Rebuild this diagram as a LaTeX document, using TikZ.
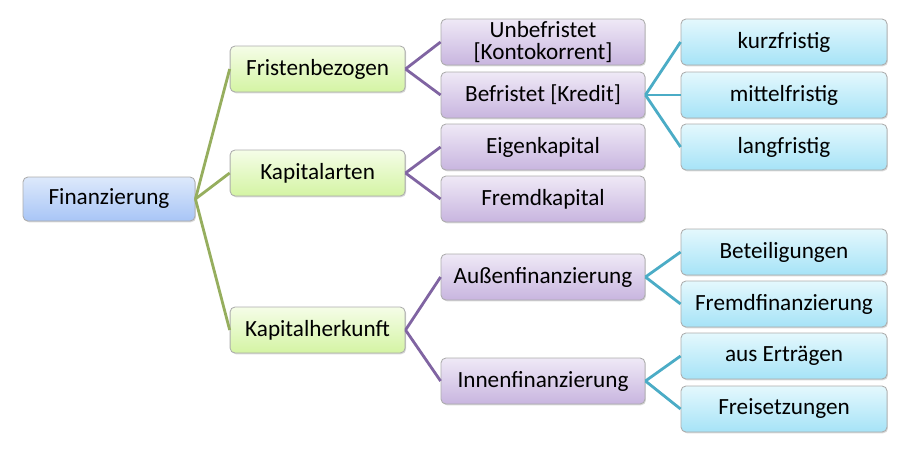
\documentclass[tikz,border=0pt]{standalone}
\usepackage{fontspec}
\setmainfont{Carlito}
\usetikzlibrary{shadows}

\definecolor{rootTop}{HTML}{DDE9FB}
\definecolor{rootBot}{HTML}{A8C5F6}
\definecolor{grnTop}{HTML}{F5FDE8}
\definecolor{grnBot}{HTML}{D4F4A3}
\definecolor{purTop}{HTML}{EFE9F6}
\definecolor{purBot}{HTML}{C8B5DF}
\definecolor{cyaTop}{HTML}{E4F8FD}
\definecolor{cyaBot}{HTML}{A6E3F7}
\definecolor{grnLine}{HTML}{96AE5E}
\definecolor{purLine}{HTML}{8064A2}
\definecolor{cyaLine}{HTML}{4BACC6}

\begin{document}
\begin{tikzpicture}[font=\fontsize{16.5}{19}\selectfont,
  box/.style={draw=gray!65, line width=0.6pt, rounded corners=3.5pt, align=center,
    inner sep=0pt, minimum height=1.15cm,
    drop shadow={opacity=0.3, shadow xshift=0.7pt, shadow yshift=-0.9pt}},
  rootbox/.style={box, top color=rootTop, bottom color=rootBot, minimum width=4.3cm, minimum height=1.1cm},
  lvlone/.style={box, top color=grnTop, bottom color=grnBot, minimum width=4.375cm},
  lvltwo/.style={box, top color=purTop, bottom color=purBot, minimum width=5.1cm},
  lvlthree/.style={box, top color=cyaTop, bottom color=cyaBot, minimum width=5.15cm},
  link/.style={line width=2pt}]
  \useasboundingbox (0,0) rectangle (22.575,-11.2);

  % root
  \node[rootbox] (fin) at (2.725,-4.975) {Finanzierung};

  % first level
  \node[lvlone] (frist) at (7.94,-1.725) {Fristenbezogen};
  \node[lvlone] (arten) at (7.94,-4.325) {Kapitalarten};
  \node[lvlone] (herk)  at (7.94,-8.25)  {Kapitalherkunft};

  % second level
  \node[lvltwo] (unbef) at (13.575,-1.05) {Unbefristet\\[-3pt][Kontokorrent]};
  \node[lvltwo] (bef)   at (13.575,-2.375) {Befristet [Kredit]};
  \node[lvltwo] (eigen) at (13.575,-3.675) {Eigenkapital};
  \node[lvltwo] (fremd) at (13.575,-4.975) {Fremdkapital};
  \node[lvltwo] (aussen) at (13.575,-6.925) {Außenfinanzierung};
  \node[lvltwo] (innen)  at (13.575,-9.525) {Innenfinanzierung};

  % third level
  \node[lvlthree] (kurz)   at (19.6,-1.05)  {kurzfristig};
  \node[lvlthree] (mittel) at (19.6,-2.375) {mittelfristig};
  \node[lvlthree] (lang)   at (19.6,-3.675) {langfristig};
  \node[lvlthree] (beteil) at (19.6,-6.3)   {Beteiligungen};
  \node[lvlthree] (fremdf) at (19.6,-7.6)   {Fremdfinanzierung};
  \node[lvlthree] (ertrag) at (19.6,-8.9)   {aus Erträgen};
  \node[lvlthree] (freis)  at (19.6,-10.225) {Freisetzungen};

  % connectors
  \foreach \t in {frist, arten, herk}
    \draw[link, grnLine] (fin.east) -- (\t.west);
  \foreach \t in {unbef, bef}
    \draw[link, purLine] (frist.east) -- (\t.west);
  \foreach \t in {eigen, fremd}
    \draw[link, purLine] (arten.east) -- (\t.west);
  \foreach \t in {aussen, innen}
    \draw[link, purLine] (herk.east) -- (\t.west);
  \foreach \t in {kurz, mittel, lang}
    \draw[link, cyaLine] (bef.east) -- (\t.west);
  \foreach \t in {beteil, fremdf}
    \draw[link, cyaLine] (aussen.east) -- (\t.west);
  \foreach \t in {ertrag, freis}
    \draw[link, cyaLine] (innen.east) -- (\t.west);
\end{tikzpicture}
\end{document}
